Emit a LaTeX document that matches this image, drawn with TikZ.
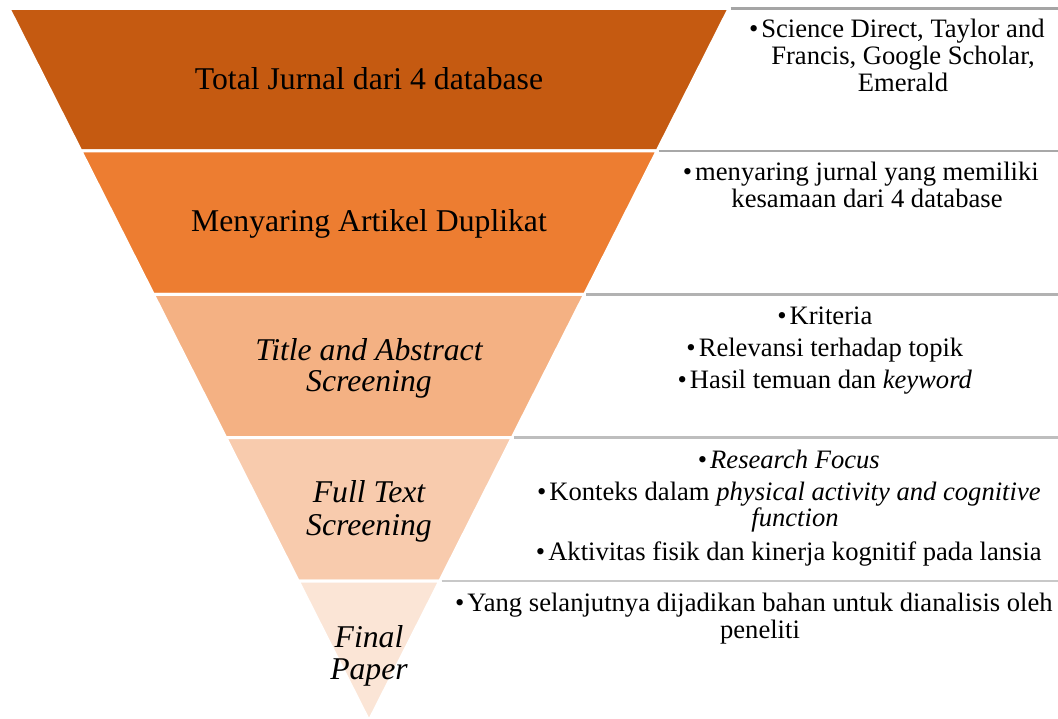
\documentclass[tikz,border=0pt]{standalone}
\usepackage{fontspec}
\setmainfont{Liberation Serif}
\definecolor{layA}{HTML}{C55A11}
\definecolor{layB}{HTML}{ED7D31}
\definecolor{layC}{HTML}{F4B183}
\definecolor{layD}{HTML}{F8CBAD}
\definecolor{layE}{HTML}{FBE5D6}
\definecolor{ruleA}{HTML}{A5A5A5}
\definecolor{ruleB}{HTML}{A8A8A8}
\definecolor{ruleC}{HTML}{B2B2B2}
\definecolor{ruleD}{HTML}{BEBEBE}
\definecolor{ruleE}{HTML}{C8C8C8}
\newcommand{\bul}{\llap{•\kern3pt}}
\tikzset{
  funtxt/.style={font=\fontsize{31.7}{33}\selectfont, inner sep=0pt, anchor=base, text=black},
  sidetxt/.style={font=\fontsize{26.6}{27}\selectfont, inner sep=0pt, anchor=base, text=black},
  layer/.style={draw=white, line width=3pt, line join=miter},
  sepline/.style={line width=2.5pt}
}
\begin{document}
\begin{tikzpicture}[x=1pt,y=-1pt]
\useasboundingbox (0,0) rectangle (1058,719);
% funnel layers
\path[layer, fill=layA] (8.9,8.5) -- (729.1,8.5) -- (657.1,151) -- (80.9,151) -- cycle;
\path[layer, fill=layB] (80.9,151) -- (657.1,151) -- (584.6,294.5) -- (153.4,294.5) -- cycle;
\path[layer, fill=layC] (153.4,294.5) -- (584.6,294.5) -- (512.3,437.5) -- (225.7,437.5) -- cycle;
\path[layer, fill=layD] (225.7,437.5) -- (512.3,437.5) -- (439.8,581) -- (298.2,581) -- cycle;
\path[layer, fill=layE] (298.2,581) -- (439.8,581) -- (369,721) -- cycle;
% separator lines
\coordinate (r1a) at (730.5,8.3);  \coordinate (r1b) at (1058,8.3);
\coordinate (r2a) at (658.5,151);  \coordinate (r2b) at (1058,151);
\coordinate (r3a) at (586,294.5);  \coordinate (r3b) at (1058,294.5);
\coordinate (r4a) at (514,437.5);  \coordinate (r4b) at (1058,437.5);
\coordinate (r5a) at (441.5,581);  \coordinate (r5b) at (1058,581);
\draw[sepline, ruleA] (r1a) -- (r1b);
\draw[sepline, ruleB] (r2a) -- (r2b);
\draw[sepline, ruleC] (r3a) -- (r3b);
\draw[sepline, ruleD] (r4a) -- (r4b);
\draw[sepline, ruleE] (r5a) -- (r5b);
% funnel texts
\node[funtxt] (t1) at (369,90) {Total Jurnal dari 4 database};
\node[funtxt] (t2) at (369,231.7) {Menyaring Artikel Duplikat};
\node[funtxt] (t3a) at (369,360) {\itshape Title and Abstract};
\node[funtxt] (t3b) at (369,391.7) {\itshape Screening};
\node[funtxt] (t4a) at (369,502) {\itshape Full Text};
\node[funtxt] (t4b) at (369,535) {\itshape Screening};
\node[funtxt] (t5a) at (369,647) {\itshape Final};
\node[funtxt] (t5b) at (369,679) {\itshape Paper};
% side texts
\node[sidetxt] (s1a) at (903,37.3) {\bul Science Direct, Taylor and};
\node[sidetxt] (s1b) at (903,64.3) {Francis, Google Scholar,};
\node[sidetxt] (s1c) at (903,91.7) {Emerald};
\node[sidetxt] (s2a) at (867,181) {\bul menyaring jurnal yang memiliki};
\node[sidetxt] (s2b) at (867,208) {kesamaan dari 4 database};
\node[sidetxt] (s3a) at (831,325) {\bul Kriteria};
\node[sidetxt] (s3b) at (831,356.7) {\bul Relevansi terhadap topik};
\node[sidetxt] (s3c) at (831,388.3) {\bul Hasil temuan dan \textit{keyword}};
\node[sidetxt] (s4a) at (795,468.3) {\bul\textit{Research Focus}};
\node[sidetxt] (s4b) at (795,500) {\bul Konteks dalam \textit{physical activity and cognitive}};
\node[sidetxt] (s4c) at (795,526.7) {\textit{function}};
\node[sidetxt] (s4d) at (795,560) {\bul Aktivitas fisik dan kinerja kognitif pada lansia};
\node[sidetxt] (s5a) at (760,611.7) {\bul Yang selanjutnya dijadikan bahan untuk dianalisis oleh};
\node[sidetxt] (s5b) at (760,638.3) {peneliti};
\end{tikzpicture}
\end{document}
